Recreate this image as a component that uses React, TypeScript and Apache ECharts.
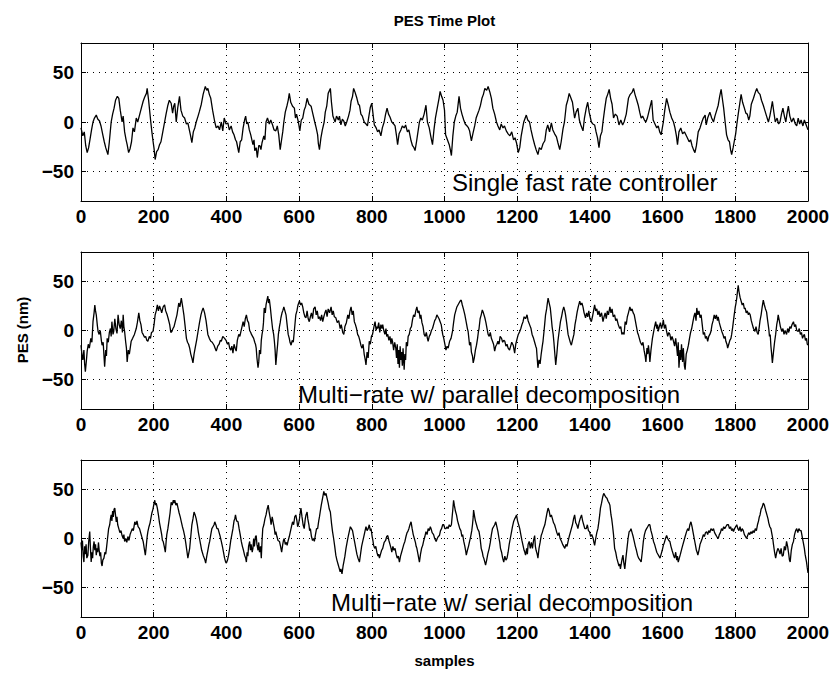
import React, { useEffect, useRef } from "react";
import * as echarts from "echarts";

const xTicks = { min: 0, max: 2000, interval: 200 };
const yTickValues = [-50, 0, 50];
const yRange = { min: -80, max: 80 };

const titleText = "PES Time Plot";
const yLabelText = "PES (nm)";
const xLabelText = "samples";
const panelLabels = [
  "Single fast rate controller",
  "Multi\u2212rate w/ parallel decomposition",
  "Multi\u2212rate w/ serial decomposition",
];

const fastRate: number[][] = [[0,-6],[5,-14],[9,-10],[13,-24],[17,-31],[21,-26],[25,-17],[29,-8],[33,0],[37,4],[42,7],[46,3],[51,1],[55,-4],[60,-13],[64,-20],[68,-26],[74,-33],[78,-20],[83,0],[87,8],[91,14],[95,22],[100,26],[104,24],[108,12],[113,0],[116,6],[120,-10],[124,-18],[127,-23],[131,-31],[135,-27],[139,-20],[143,-6],[147,-10],[152,4],[156,0],[161,7],[166,14],[171,21],[175,25],[180,29],[182,34],[186,22],[192,0],[195,-10],[198,-19],[201,-27],[204,-38],[208,-30],[212,-28],[216,-23],[220,-20],[224,-12],[230,0],[234,8],[239,17],[243,22],[248,19],[252,9],[255,16],[258,19],[262,0],[266,14],[271,26],[275,12],[280,6],[285,4],[290,-2],[294,-1],[298,-8],[301,-13],[305,-21],[309,-10],[313,-6],[317,0],[322,6],[326,11],[331,18],[336,28],[342,36],[346,32],[349,34],[353,28],[357,24],[362,12],[368,0],[372,-6],[377,-4],[381,-8],[386,0],[390,-9],[394,4],[399,-2],[404,-1],[408,-8],[413,-4],[417,-10],[421,-13],[425,-18],[428,-20],[434,-31],[438,-20],[442,-18],[446,-6],[450,2],[453,6],[456,-2],[459,0],[463,-8],[467,-13],[473,-23],[476,-18],[478,-29],[482,-26],[485,-36],[489,-24],[492,-24],[495,-28],[498,-21],[503,-14],[506,-18],[509,0],[513,4],[518,-2],[522,2],[527,-3],[531,-8],[536,-9],[540,-4],[544,-13],[548,-28],[551,-20],[555,-10],[558,0],[562,10],[567,17],[570,22],[573,29],[577,20],[582,16],[587,14],[590,4],[593,8],[598,0],[602,-9],[606,2],[610,4],[614,12],[618,16],[622,24],[627,18],[633,16],[638,8],[643,0],[647,-6],[651,-13],[653,-22],[656,-28],[660,-16],[664,-8],[669,0],[672,10],[676,16],[680,29],[686,34],[689,20],[693,6],[699,0],[703,6],[708,2],[711,6],[715,-3],[719,3],[723,1],[727,-4],[731,0],[736,6],[740,12],[743,21],[747,26],[750,34],[754,30],[759,24],[763,18],[766,17],[770,8],[774,6],[779,0],[784,-2],[788,-4],[792,6],[796,15],[800,19],[804,6],[807,-3],[812,-6],[816,-10],[820,-8],[825,-14],[829,-6],[834,0],[838,8],[842,14],[846,8],[850,5],[855,0],[860,-2],[864,-4],[868,-14],[871,-23],[875,-12],[880,-8],[884,-4],[889,-6],[893,-3],[898,-10],[902,-8],[908,-19],[912,-24],[916,-26],[919,-29],[923,-20],[927,-10],[931,0],[935,4],[939,2],[944,8],[949,17],[953,0],[958,-6],[962,-14],[967,-23],[971,-8],[975,4],[981,16],[985,24],[988,31],[992,26],[996,22],[1000,12],[1003,-13],[1008,-18],[1013,-23],[1016,-28],[1019,-34],[1023,-14],[1027,0],[1031,6],[1035,10],[1040,26],[1044,14],[1048,8],[1053,2],[1057,-2],[1062,-4],[1066,-6],[1069,-9],[1074,-19],[1078,-12],[1083,-4],[1087,4],[1090,7],[1095,12],[1099,17],[1103,24],[1107,28],[1111,34],[1116,32],[1120,36],[1125,30],[1129,24],[1133,14],[1138,8],[1143,0],[1147,-4],[1152,-8],[1156,-2],[1161,-6],[1165,-4],[1170,-9],[1175,-12],[1180,-14],[1185,-10],[1190,-18],[1194,-16],[1198,-21],[1203,-31],[1207,-26],[1211,-14],[1215,-6],[1218,0],[1222,4],[1225,7],[1229,2],[1234,0],[1238,-8],[1243,-16],[1248,-23],[1252,-28],[1257,-33],[1261,-26],[1266,-28],[1271,-22],[1276,-19],[1280,-8],[1284,-3],[1289,-10],[1294,-1],[1298,-8],[1303,-12],[1308,-15],[1312,-21],[1317,-28],[1321,-20],[1326,-7],[1330,0],[1335,17],[1339,22],[1343,29],[1348,24],[1352,20],[1358,4],[1362,10],[1367,14],[1371,2],[1375,-3],[1381,-9],[1385,4],[1390,14],[1394,20],[1398,10],[1404,0],[1408,-2],[1413,-3],[1417,-10],[1421,-16],[1425,-26],[1429,-14],[1433,-10],[1436,0],[1441,14],[1445,24],[1449,28],[1453,33],[1457,24],[1461,18],[1465,4],[1470,8],[1475,6],[1480,-3],[1485,2],[1490,-3],[1494,0],[1500,8],[1506,24],[1511,28],[1516,30],[1520,34],[1524,28],[1529,22],[1533,17],[1537,10],[1541,4],[1545,6],[1550,2],[1554,0],[1558,4],[1562,10],[1566,16],[1570,22],[1574,2],[1579,-2],[1584,-6],[1588,-4],[1592,-10],[1596,-13],[1602,0],[1606,12],[1611,24],[1615,18],[1620,10],[1625,4],[1630,0],[1634,-6],[1638,-14],[1641,-23],[1645,-10],[1650,-6],[1655,-12],[1660,-10],[1664,-13],[1668,-16],[1673,-20],[1677,-18],[1681,-24],[1685,-28],[1689,-31],[1693,-24],[1698,-10],[1703,-6],[1708,0],[1712,4],[1717,7],[1720,-3],[1724,4],[1730,10],[1735,4],[1740,0],[1744,6],[1749,12],[1753,17],[1757,26],[1761,33],[1765,22],[1768,14],[1772,0],[1776,-13],[1780,-18],[1784,-20],[1787,-28],[1790,-33],[1794,-26],[1797,-20],[1801,-12],[1804,-3],[1808,8],[1812,18],[1816,28],[1820,20],[1825,14],[1829,9],[1833,8],[1837,2],[1840,6],[1844,18],[1850,24],[1855,30],[1859,34],[1863,30],[1868,28],[1872,22],[1877,17],[1881,12],[1886,6],[1891,0],[1895,6],[1898,12],[1902,21],[1906,10],[1910,0],[1915,4],[1919,-2],[1923,0],[1927,8],[1931,14],[1935,6],[1939,0],[1942,8],[1946,16],[1950,6],[1955,0],[1960,4],[1965,-2],[1969,-4],[1973,4],[1977,-2],[1981,2],[1986,-4],[1990,2],[1996,-4],[2000,-8]];

const parallelDecomp: number[][] = [[0,-15],[3,-26],[5,-30],[8,-20],[10,-34],[12,-42],[15,-30],[17,-21],[20,-14],[23,-18],[27,-8],[30,-12],[33,9],[36,18],[38,26],[40,20],[42,16],[45,5],[47,-1],[50,-4],[53,0],[56,-10],[58,-15],[61,-12],[65,-37],[68,-20],[70,-26],[72,-8],[75,-12],[78,-2],[81,2],[83,-6],[85,9],[88,-4],[90,-1],[93,12],[96,2],[99,-3],[102,16],[105,6],[108,2],[111,10],[114,-2],[116,16],[118,4],[120,-1],[123,-12],[125,-18],[127,-32],[130,-20],[133,-24],[138,-11],[142,-8],[147,-4],[152,2],[155,8],[159,18],[162,10],[165,6],[168,-2],[171,-4],[175,-7],[178,-6],[181,-10],[184,-11],[188,-6],[191,-8],[194,-2],[198,-1],[201,6],[204,16],[207,20],[210,26],[213,20],[216,25],[219,22],[222,18],[226,24],[230,26],[233,20],[237,16],[240,12],[244,6],[247,-2],[250,-1],[253,2],[256,4],[260,10],[264,16],[269,28],[272,24],[276,33],[279,26],[283,16],[286,6],[290,-8],[293,-12],[296,-14],[299,-18],[302,-24],[305,-28],[308,-33],[311,-24],[314,-18],[318,-10],[322,-1],[326,8],[330,16],[333,20],[336,23],[340,18],[344,10],[349,-4],[353,-8],[357,-11],[361,-12],[366,-15],[369,-18],[372,-21],[376,-16],[380,-14],[383,-10],[386,-11],[390,-6],[395,-8],[399,-10],[403,-14],[406,-12],[409,-18],[412,-20],[415,-16],[418,-23],[421,-14],[424,-18],[427,-21],[430,-10],[434,-4],[437,-6],[440,-1],[443,4],[446,9],[449,4],[452,12],[455,16],[458,10],[461,8],[464,0],[467,-2],[469,-4],[472,-6],[475,-8],[478,-12],[480,-14],[482,-18],[484,-28],[487,-38],[489,-32],[491,-20],[494,-24],[496,-10],[498,-4],[500,0],[502,8],[504,23],[507,18],[509,26],[511,30],[514,35],[516,28],[518,32],[521,23],[524,12],[527,2],[530,-4],[532,-11],[534,-20],[536,-35],[539,-22],[541,-14],[543,-4],[546,4],[548,8],[550,13],[553,18],[555,20],[558,24],[561,20],[564,16],[567,6],[570,-4],[573,-8],[575,-12],[578,-15],[581,-10],[584,-12],[587,0],[591,16],[594,20],[597,26],[601,30],[604,26],[607,28],[610,24],[613,18],[616,14],[619,13],[622,20],[625,12],[628,9],[631,14],[634,18],[637,12],[640,22],[644,24],[647,16],[650,20],[653,12],[656,14],[659,10],[662,16],[665,9],[668,14],[671,18],[674,21],[677,14],[680,22],[684,18],[688,24],[691,16],[694,20],[697,14],[701,13],[705,8],[709,10],[713,2],[716,6],[720,-2],[723,-4],[726,4],[730,8],[734,16],[737,12],[740,20],[743,24],[746,16],[749,20],[752,9],[755,6],[758,2],[761,-4],[764,-6],[767,-10],[770,-15],[773,-18],[776,-14],[779,-24],[782,-30],[784,-35],[787,-22],[790,-28],[793,-11],[796,-14],[799,-6],[802,-4],[805,2],[807,6],[809,9],[812,0],[814,4],[816,2],[819,8],[822,-2],[825,6],[828,2],[830,6],[833,0],[836,-4],[839,2],[841,-6],[844,-4],[847,-10],[850,-6],[853,-14],[855,-8],[857,-11],[860,-20],[863,-12],[866,-18],[868,-28],[870,-14],[872,-34],[874,-20],[876,-38],[878,-16],[880,-30],[882,-22],[884,-36],[886,-18],[889,-40],[891,-24],[893,-30],[895,-12],[898,-16],[900,-6],[903,-4],[906,2],[909,4],[912,11],[915,16],[918,14],[921,20],[924,24],[927,18],[930,20],[933,12],[935,16],[938,8],[941,4],[944,-4],[947,-6],[950,-2],[953,-8],[955,-11],[958,-6],[961,-4],[964,0],[967,2],[970,6],[973,10],[976,12],[979,16],[982,14],[985,12],[988,9],[991,6],[995,-4],[998,-8],[1001,-14],[1004,-20],[1007,-16],[1010,-18],[1014,-11],[1018,-8],[1022,-1],[1025,8],[1028,16],[1031,20],[1034,24],[1037,26],[1040,28],[1043,30],[1046,31],[1049,26],[1052,22],[1056,16],[1060,8],[1063,2],[1065,-1],[1067,-8],[1069,-15],[1072,-12],[1074,-22],[1077,-26],[1079,-33],[1082,-28],[1085,-20],[1088,-15],[1091,-8],[1093,-2],[1095,2],[1098,12],[1101,16],[1104,21],[1107,18],[1111,13],[1114,8],[1117,2],[1120,-4],[1123,-6],[1126,-2],[1129,-8],[1132,-11],[1135,-14],[1138,-21],[1141,-16],[1144,-14],[1147,-11],[1150,-14],[1153,-6],[1157,-8],[1160,-12],[1163,-10],[1166,-11],[1169,-16],[1172,-14],[1175,-18],[1179,-20],[1182,-16],[1185,-12],[1189,-15],[1191,-19],[1193,-23],[1196,-14],[1200,-8],[1203,-4],[1207,-1],[1210,2],[1213,6],[1216,9],[1219,14],[1223,12],[1227,16],[1230,10],[1234,6],[1238,2],[1241,-4],[1245,-8],[1248,-12],[1251,-16],[1253,-18],[1255,-28],[1257,-38],[1260,-30],[1263,-34],[1266,-24],[1269,-16],[1271,-11],[1274,0],[1276,8],[1278,16],[1281,22],[1283,28],[1285,33],[1288,28],[1291,23],[1294,12],[1296,4],[1299,-4],[1301,-12],[1304,-26],[1306,-35],[1309,-24],[1312,-11],[1315,-2],[1319,9],[1322,14],[1325,20],[1328,24],[1331,20],[1333,16],[1336,8],[1340,-4],[1343,-8],[1346,-12],[1349,-15],[1352,-10],[1356,-4],[1359,6],[1362,12],[1365,19],[1368,24],[1372,30],[1375,26],[1378,28],[1381,24],[1384,18],[1388,13],[1391,18],[1394,14],[1397,20],[1400,12],[1404,9],[1407,14],[1410,20],[1413,26],[1416,20],[1419,22],[1422,16],[1425,20],[1428,14],[1432,18],[1436,9],[1439,14],[1442,18],[1445,12],[1448,20],[1451,16],[1455,24],[1458,18],[1461,22],[1464,14],[1468,16],[1471,10],[1474,12],[1478,6],[1482,2],[1485,4],[1488,-4],[1491,-2],[1494,-4],[1497,9],[1500,6],[1503,14],[1506,18],[1510,24],[1513,20],[1516,22],[1519,18],[1522,16],[1525,10],[1528,4],[1531,-2],[1533,-4],[1536,-8],[1539,-12],[1543,-15],[1546,-12],[1549,-20],[1552,-26],[1554,-32],[1557,-18],[1559,-24],[1561,-15],[1563,-22],[1565,-32],[1568,-20],[1570,-14],[1572,-8],[1575,-2],[1578,4],[1581,9],[1584,2],[1586,6],[1588,-1],[1591,4],[1594,8],[1597,2],[1600,6],[1602,11],[1605,2],[1608,6],[1611,-1],[1614,-6],[1617,-2],[1620,-4],[1623,-10],[1626,-6],[1630,-11],[1633,-16],[1636,-8],[1639,-18],[1641,-26],[1643,-12],[1645,-38],[1648,-20],[1650,-30],[1652,-14],[1655,-32],[1657,-18],[1660,-36],[1662,-40],[1665,-24],[1668,-20],[1671,-15],[1674,-8],[1677,-2],[1680,2],[1683,8],[1686,14],[1689,18],[1692,10],[1694,23],[1697,16],[1700,20],[1703,13],[1706,16],[1709,6],[1712,-4],[1715,-2],[1718,-8],[1721,-6],[1724,-11],[1727,-6],[1730,-4],[1733,-1],[1736,6],[1739,10],[1742,16],[1745,12],[1748,16],[1751,10],[1753,14],[1756,8],[1759,4],[1763,-1],[1766,-4],[1769,-8],[1772,-6],[1774,-11],[1777,-14],[1779,-18],[1782,-14],[1785,-10],[1788,-8],[1790,-4],[1793,4],[1795,10],[1797,16],[1800,24],[1802,28],[1804,33],[1806,40],[1808,46],[1810,40],[1813,34],[1816,30],[1819,26],[1822,28],[1825,22],[1827,23],[1830,18],[1833,20],[1836,16],[1838,18],[1841,16],[1844,10],[1847,6],[1850,2],[1854,-1],[1857,4],[1860,-2],[1863,-4],[1866,4],[1868,10],[1871,16],[1874,24],[1877,31],[1880,26],[1883,22],[1886,19],[1889,10],[1892,2],[1894,-6],[1896,-4],[1898,-16],[1900,-24],[1902,-33],[1905,-22],[1908,-12],[1911,-4],[1914,6],[1916,10],[1918,16],[1921,10],[1924,4],[1928,-1],[1931,2],[1934,-4],[1937,0],[1941,-4],[1944,2],[1947,-2],[1950,4],[1953,2],[1956,6],[1960,9],[1963,4],[1966,6],[1969,0],[1973,-1],[1976,2],[1979,-4],[1982,-2],[1985,-8],[1987,-6],[1990,-4],[1993,-10],[1996,-8],[1998,-14],[2000,-15]];

const serialDecomp: number[][] = [[0,-4],[2,-12],[4,-2],[6,-18],[8,-24],[10,-8],[12,-16],[14,-6],[16,-20],[19,-17],[21,-4],[24,7],[26,-10],[28,-24],[30,-14],[32,-20],[34,-8],[36,-3],[38,-12],[40,-6],[42,-17],[44,-10],[46,-14],[48,-4],[50,-12],[52,-18],[54,-14],[56,-25],[58,-28],[60,-22],[63,-20],[66,-14],[68,-16],[70,-10],[73,0],[76,10],[79,14],[81,20],[83,24],[85,18],[87,28],[89,22],[91,30],[93,31],[95,24],[97,17],[99,22],[101,14],[104,10],[107,6],[110,8],[113,3],[116,0],[118,4],[120,-3],[123,0],[126,-4],[129,2],[132,-2],[135,4],[138,7],[141,10],[144,8],[148,17],[151,14],[154,18],[157,12],[161,10],[164,6],[167,2],[171,-3],[174,-10],[177,-17],[180,-6],[182,2],[184,7],[187,12],[190,16],[192,20],[195,26],[198,30],[201,36],[203,39],[205,34],[207,36],[210,31],[213,24],[216,16],[219,10],[222,4],[224,-2],[226,-3],[229,-8],[232,-14],[234,-4],[236,4],[239,10],[242,18],[245,26],[248,37],[251,34],[254,39],[256,36],[258,39],[261,34],[264,36],[267,31],[270,26],[273,22],[276,17],[279,12],[282,8],[285,3],[288,-4],[291,-12],[294,-20],[296,-16],[299,-10],[302,2],[305,14],[308,20],[311,27],[314,24],[317,20],[320,14],[323,6],[326,0],[329,-6],[332,-12],[336,-17],[339,-20],[341,-22],[343,-25],[346,-18],[349,-12],[352,-6],[354,-3],[357,4],[360,10],[363,12],[366,14],[368,17],[371,14],[374,10],[377,10],[380,6],[383,2],[386,-3],[389,-8],[392,-14],[395,-20],[398,-24],[400,-25],[403,-22],[406,-17],[409,-10],[412,-2],[415,4],[418,10],[421,18],[423,20],[425,24],[428,18],[432,17],[435,10],[438,4],[441,-3],[444,-8],[447,-12],[450,-17],[453,-20],[455,-24],[457,-14],[459,-18],[461,-8],[464,-3],[466,-12],[468,-6],[471,-14],[473,-10],[475,0],[477,-8],[480,2],[482,3],[484,-6],[487,-12],[489,-4],[491,-14],[494,-8],[496,-20],[498,-3],[500,10],[503,14],[506,20],[509,24],[512,30],[515,34],[518,26],[521,20],[523,14],[526,22],[529,16],[532,10],[534,4],[536,7],[539,2],[542,-2],[546,-3],[549,-8],[552,-14],[555,-6],[557,-2],[559,0],[562,-6],[565,-4],[567,-7],[570,-2],[573,2],[576,7],[579,12],[582,17],[585,14],[588,22],[591,24],[594,18],[596,12],[598,14],[601,20],[603,26],[605,31],[608,22],[611,14],[614,10],[617,20],[619,24],[622,27],[624,20],[627,14],[629,8],[631,10],[634,2],[637,-2],[640,0],[642,-3],[645,4],[648,10],[651,10],[654,18],[656,22],[658,27],[661,34],[665,42],[668,48],[671,44],[674,46],[677,41],[680,36],[683,30],[686,27],[689,16],[692,7],[695,0],[698,-8],[701,-17],[704,-22],[707,-26],[710,-30],[713,-34],[715,-31],[718,-36],[721,-28],[723,-24],[726,-18],[729,-10],[732,-4],[735,2],[738,7],[741,12],[744,10],[747,8],[750,2],[753,-4],[756,-10],[759,-16],[762,-20],[764,-22],[766,-24],[769,-16],[772,-8],[775,-3],[778,2],[781,7],[784,12],[787,8],[790,10],[793,14],[796,8],[798,10],[801,2],[803,-2],[805,-7],[808,-10],[811,-8],[814,-14],[817,-18],[819,-16],[821,-20],[824,-16],[827,-12],[830,-10],[834,-4],[838,-2],[841,2],[844,3],[847,-2],[850,-6],[853,-10],[855,-14],[858,-8],[861,-12],[864,-10],[867,-16],[870,-20],[873,-18],[876,-24],[879,-18],[882,-14],[885,-10],[888,-6],[891,-3],[894,2],[897,6],[899,7],[902,10],[905,14],[908,17],[911,10],[914,4],[917,0],[920,-4],[922,-8],[924,-10],[927,-16],[929,-20],[931,-24],[934,-16],[937,-10],[940,-7],[943,-2],[946,2],[949,7],[952,4],[955,10],[958,8],[961,12],[963,10],[966,6],[970,4],[973,0],[977,-3],[980,0],[983,2],[986,3],[989,8],[992,10],[995,14],[998,14],[1001,10],[1004,10],[1007,12],[1010,10],[1013,14],[1016,12],[1019,14],[1021,22],[1023,30],[1025,39],[1027,34],[1030,28],[1033,24],[1036,18],[1039,14],[1042,10],[1045,8],[1048,2],[1050,4],[1053,-3],[1056,-8],[1058,-12],[1060,-17],[1063,-12],[1066,-8],[1069,-3],[1072,2],[1075,8],[1077,14],[1079,22],[1080,29],[1083,22],[1085,18],[1088,14],[1091,10],[1095,7],[1098,0],[1101,-10],[1104,-14],[1106,-18],[1108,-20],[1111,-24],[1113,-27],[1116,-22],[1119,-16],[1123,-10],[1126,-4],[1129,4],[1132,10],[1135,12],[1138,14],[1141,17],[1144,12],[1147,7],[1150,0],[1152,-4],[1154,-10],[1157,-14],[1160,-20],[1163,-24],[1166,-18],[1169,-22],[1172,-20],[1175,-14],[1178,-6],[1181,0],[1184,6],[1187,12],[1190,17],[1193,20],[1196,22],[1198,24],[1201,18],[1204,14],[1207,10],[1210,4],[1213,-2],[1216,-7],[1219,-12],[1221,-14],[1223,-17],[1226,-10],[1228,-16],[1230,-6],[1233,-3],[1236,-10],[1239,-4],[1242,-10],[1245,-2],[1248,3],[1250,-8],[1252,-12],[1255,-16],[1257,-20],[1260,-10],[1263,-4],[1266,3],[1269,6],[1272,10],[1274,12],[1276,14],[1279,20],[1282,26],[1285,31],[1288,28],[1291,22],[1294,24],[1297,20],[1300,16],[1303,14],[1306,10],[1309,6],[1312,3],[1315,6],[1318,0],[1322,-3],[1325,-6],[1328,-8],[1331,-10],[1334,-6],[1337,-8],[1340,-3],[1343,2],[1346,6],[1349,10],[1352,14],[1355,20],[1358,24],[1361,16],[1364,14],[1367,10],[1370,16],[1373,20],[1377,24],[1380,18],[1383,14],[1386,10],[1390,10],[1393,14],[1396,8],[1399,7],[1402,2],[1405,4],[1409,0],[1411,-4],[1413,-7],[1416,0],[1419,6],[1422,10],[1425,18],[1427,24],[1429,31],[1432,36],[1435,42],[1438,46],[1441,44],[1444,42],[1447,41],[1450,38],[1453,36],[1455,34],[1458,24],[1460,20],[1462,14],[1465,4],[1468,-10],[1471,-14],[1474,-20],[1477,-24],[1480,-28],[1482,-26],[1484,-31],[1487,-24],[1489,-20],[1491,-17],[1493,-24],[1496,-31],[1499,-20],[1502,-10],[1505,0],[1508,7],[1511,8],[1513,10],[1516,6],[1519,2],[1522,-3],[1525,-8],[1528,-12],[1531,-17],[1534,-20],[1538,-22],[1541,-24],[1544,-14],[1547,-3],[1550,4],[1553,8],[1556,10],[1559,12],[1562,14],[1565,14],[1568,8],[1571,4],[1575,-3],[1578,-6],[1581,-10],[1584,-14],[1587,-16],[1590,-18],[1593,-20],[1596,-16],[1599,-12],[1602,-7],[1605,-4],[1608,0],[1611,3],[1614,0],[1617,-2],[1620,-3],[1623,-8],[1626,-12],[1630,-17],[1633,-20],[1636,-14],[1639,-22],[1641,-18],[1643,-24],[1646,-20],[1649,-16],[1653,-10],[1656,-6],[1659,-2],[1662,2],[1666,7],[1669,10],[1672,8],[1675,14],[1678,17],[1681,12],[1684,6],[1687,0],[1690,-6],[1693,-12],[1695,-14],[1697,-17],[1700,-12],[1703,-6],[1706,-3],[1709,0],[1712,4],[1715,2],[1718,6],[1721,7],[1724,4],[1727,8],[1730,6],[1733,10],[1737,8],[1740,10],[1743,6],[1746,4],[1749,2],[1753,0],[1756,4],[1759,6],[1762,10],[1765,8],[1768,12],[1771,10],[1774,12],[1777,14],[1781,14],[1784,10],[1787,12],[1790,8],[1793,10],[1795,7],[1798,10],[1801,12],[1804,14],[1807,10],[1810,8],[1813,12],[1816,7],[1819,10],[1822,8],[1825,4],[1828,2],[1831,0],[1834,3],[1837,6],[1840,4],[1843,7],[1846,5],[1849,8],[1852,6],[1855,10],[1858,8],[1861,14],[1864,18],[1866,22],[1868,24],[1871,30],[1874,32],[1877,36],[1880,34],[1882,31],[1884,28],[1887,24],[1890,20],[1892,16],[1895,12],[1898,10],[1901,4],[1903,0],[1905,-6],[1908,-14],[1911,-20],[1914,-14],[1917,-10],[1920,-12],[1923,-16],[1926,-10],[1929,-18],[1932,-17],[1935,-8],[1938,-12],[1941,-3],[1944,-8],[1947,-16],[1949,-22],[1951,-24],[1954,-12],[1957,-6],[1960,-3],[1963,4],[1966,8],[1969,10],[1972,6],[1975,10],[1978,8],[1981,8],[1984,2],[1987,-4],[1990,-10],[1992,-16],[1994,-20],[1996,-24],[1998,-30],[2000,-35]];

const seriesData = [fastRate, parallelDecomp, serialDecomp];

const FONT = '"Liberation Sans", Arial, Helvetica, sans-serif';
const gridLayout = [
  { top: 43, height: 158 },
  { top: 252, height: 157 },
  { top: 460, height: 157 },
];
const labelPos = [
  { x: 452, y: 182 },
  { x: 298, y: 394 },
  { x: 331, y: 602 },
];

export default function App() {
  const ref = useRef<HTMLDivElement>(null);
  useEffect(() => {
    if (!ref.current) return;
    const chart = echarts.init(ref.current, undefined, { renderer: "svg" });
    const grids = gridLayout.map((g) => ({ left: 81, width: 727, top: g.top, height: g.height }));
    const xAxes: any[] = [];
    const yAxes: any[] = [];
    const dotted = { color: "#000", width: 1, type: [1, 5] as any };
    gridLayout.forEach((_, i) => {
      xAxes.push({
        type: "value", gridIndex: i, position: "bottom", ...xTicks,
        axisLine: { show: true, onZero: false, lineStyle: { color: "#000", width: 1 } },
        axisTick: { show: true, inside: true, length: 5, lineStyle: { color: "#000" } },
        axisLabel: { color: "#000", fontSize: 19, fontWeight: "bold", fontFamily: FONT, margin: 6, formatter: (v: number) => String(v) },
        splitLine: { show: true, lineStyle: dotted },
      });
      xAxes.push({
        type: "value", gridIndex: i, position: "top", ...xTicks,
        axisLine: { show: true, onZero: false, lineStyle: { color: "#000", width: 1 } },
        axisTick: { show: true, inside: true, length: 5, lineStyle: { color: "#000" } },
        axisLabel: { show: false },
        splitLine: { show: false },
      });
      yAxes.push({
        type: "value", gridIndex: i, position: "left", ...yRange,
        axisLine: { show: true, onZero: false, lineStyle: { color: "#000", width: 1 } },
        axisTick: { show: true, inside: true, length: 5, customValues: yTickValues, lineStyle: { color: "#000" } },
        axisLabel: {
          customValues: yTickValues, color: "#000", fontSize: 19, fontWeight: "bold", fontFamily: FONT, margin: 7,
          formatter: (v: number) => (v < 0 ? "\u2212" + Math.abs(v) : String(v)),
        },
        splitLine: { show: false },
      });
      yAxes.push({
        type: "value", gridIndex: i, position: "right", ...yRange,
        axisLine: { show: true, onZero: false, lineStyle: { color: "#000", width: 1 } },
        axisTick: { show: true, inside: true, length: 5, customValues: yTickValues, lineStyle: { color: "#000" } },
        axisLabel: { show: false },
        splitLine: { show: false },
      });
    });
    const series = seriesData.map((d, i) => ({
      type: "line", xAxisIndex: 2 * i, yAxisIndex: 2 * i, data: d,
      symbol: "none", showSymbol: false,
      lineStyle: { color: "#000", width: 1.3 },
      z: 3,
      markLine: {
        silent: true, symbol: "none", label: { show: false }, z: 1,
        lineStyle: dotted,
        data: yTickValues.map((v) => ({ yAxis: v })),
      },
    }));
    const graphic: any[] = [
      { type: "text", x: 444.5, y: 20, style: { text: titleText, font: `bold 15px ${FONT}`, fill: "#000", textAlign: "center", textVerticalAlign: "middle" } },
      { type: "text", x: 444.5, y: 660, style: { text: xLabelText, font: `bold 15px ${FONT}`, fill: "#000", textAlign: "center", textVerticalAlign: "middle" } },
      { type: "text", x: 22, y: 330, rotation: Math.PI / 2, style: { text: yLabelText, font: `bold 15px ${FONT}`, fill: "#000", textAlign: "center", textVerticalAlign: "middle" } },
      ...panelLabels.map((t, i) => ({
        type: "text", x: labelPos[i].x, y: labelPos[i].y,
        style: { text: t, font: `24px ${FONT}`, fill: "#000", textAlign: "left", textVerticalAlign: "middle" },
      })),
    ];
    chart.setOption({
      animation: false,
      backgroundColor: "#fff",
      grid: grids,
      xAxis: xAxes,
      yAxis: yAxes,
      series,
      graphic,
    });
    return () => chart.dispose();
  }, []);
  return <div ref={ref} style={{ position: "absolute", left: 0, top: 0, width: 837, height: 681 }} />;
}
